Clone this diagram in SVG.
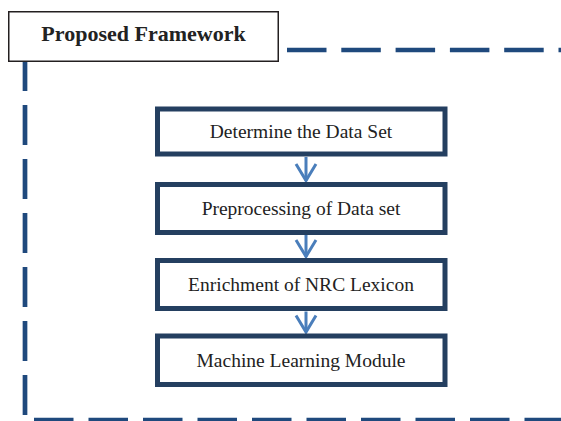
<svg xmlns="http://www.w3.org/2000/svg" width="561" height="421" viewBox="0 0 561 421">
<style>
.frame{fill:none;stroke:#1F497D;stroke-width:4.7}
.box{fill:#fff;stroke:#243F60;stroke-width:5}
.lbl{font-family:"Liberation Serif","Times New Roman",serif;font-size:19.5px;fill:#222;text-anchor:middle}
.title{font-family:"Liberation Serif","Times New Roman",serif;font-size:22px;font-weight:bold;fill:#222;text-anchor:middle}
.arrow{fill:none;stroke:#4A7EBB;stroke-width:3;marker-end:url(#chev)}
</style>
<defs>
<marker id="chev" markerUnits="userSpaceOnUse" viewBox="-20 -13 24 26" refX="0" refY="0" markerWidth="24" markerHeight="26" orient="auto" overflow="visible">
<path d="M-16.5,-10 L0,0 L-16.5,10" fill="none" stroke="#4A7EBB" stroke-width="3" stroke-linejoin="miter"/>
</marker>
</defs>
<rect width="561" height="421" fill="#fff"/>
<g id="frame">
<path class="frame" d="M25,415 V40" stroke-dasharray="40 14"/>
<path class="frame" d="M287,50 H561" stroke-dasharray="39.5 14.8"/>
<path class="frame" d="M34,420 H561" stroke-dasharray="39.5 15"/>
</g>
<g id="title">
<rect x="8.75" y="11.75" width="269.5" height="49.5" fill="#fff" stroke="#231F20" stroke-width="1.5"/>
<text class="title" x="143.5" y="40.7">Proposed Framework</text>
</g>
<g id="connectors">
<path class="arrow" d="M306,157 V180.5"/>
<path class="arrow" d="M306,235 V256.5"/>
<path class="arrow" d="M306,311.5 V332"/>
</g>
<g id="n1">
<rect class="box" x="157.5" y="109" width="287.5" height="45"/>
<text class="lbl" x="301" y="137.5">Determine the Data Set</text>
</g>
<g id="n2">
<rect class="box" x="157.5" y="184.5" width="287.5" height="48"/>
<text class="lbl" x="301" y="215">Preprocessing of Data set</text>
</g>
<g id="n3">
<rect class="box" x="157.5" y="260.5" width="287.5" height="48"/>
<text class="lbl" x="301" y="291">Enrichment of NRC Lexicon</text>
</g>
<g id="n4">
<rect class="box" x="157.5" y="336" width="287.5" height="48.5"/>
<text class="lbl" x="301" y="367">Machine Learning Module</text>
</g>
</svg>
